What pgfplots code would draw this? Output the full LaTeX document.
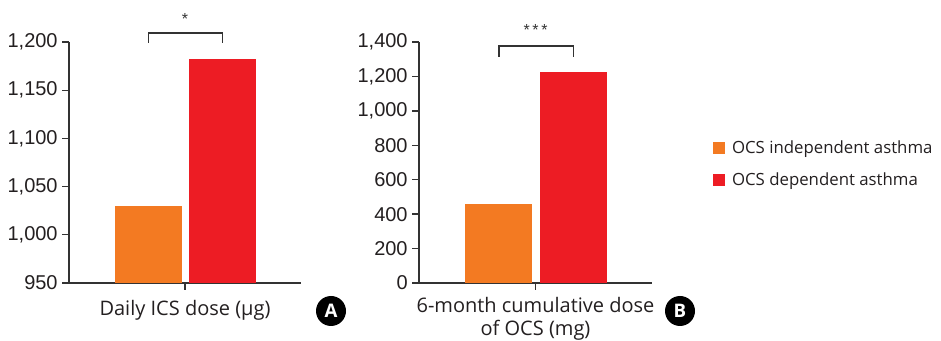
\documentclass[border=0pt]{standalone}
\usepackage{pgfplots}
\pgfplotsset{compat=1.18}
\usepackage{fontspec}
\setmainfont{Liberation Sans}
\newfontfamily\lblfont{Open Sans}
\definecolor{cOrange}{HTML}{F37A22}
\definecolor{cRed}{HTML}{ED1C24}
\definecolor{cAxis}{HTML}{333333}
\definecolor{cText}{HTML}{231F20}
\begin{document}
\begin{tikzpicture}
\useasboundingbox (0,0) rectangle (705.75pt,-255.75pt);
\pgfplotsset{
  panel/.style={
    scale only axis,
    width=174pt, height=180.75pt,
    xmin=0, xmax=232,
    axis x line*=bottom, axis y line*=left,
    axis line style={cAxis, line width=1pt, -},
    xtick={116}, xticklabels={},
    major tick style={cAxis, line width=1pt},
    major tick length=5pt,
    tick align=outside,
    ticklabel style={font=\fontsize{15}{17}\selectfont, text=cText},
    /pgf/number format/assume math mode=true,
    /pgf/number format/.cd, 1000 sep={,},
    /pgfplots/.cd,
    ybar, bar width=50.25pt, bar shift=0pt,
    clip mode=individual,
    label style={font=\lblfont\fontsize{15}{17}\selectfont, text=cText},
  }
}
% Panel A
\begin{axis}[panel, at={(51.75pt,-212.25pt)}, anchor=origin,
  ymin=950, ymax=1200, ytick={950,1000,1050,1100,1150,1200},
  xlabel={Daily ICS dose (µg)},
  xlabel style={at={(axis description cs:0.5,-0.112)}, anchor=center},
]
\addplot[fill=cOrange, draw=none] coordinates {(79.5,1030)};
\addplot[fill=cRed, draw=none] coordinates {(153.5,1182)};
\draw[cAxis, line width=1pt] (axis cs:79.5,1199) -- (axis cs:79.5,1209.3) -- (axis cs:153.5,1209.3) -- (axis cs:153.5,1199);
\node[font=\fontsize{12}{12}\selectfont, text=cAxis] at (axis cs:116,1224) {*};
\end{axis}
% Panel B
\begin{axis}[panel, at={(314.25pt,-212.25pt)}, anchor=origin,
  width=174.75pt,
  ymin=0, ymax=1400, ytick={0,200,400,600,800,1000,1200,1400},
  xlabel={6-month cumulative dose\\of OCS (mg)},
  xlabel style={at={(axis description cs:0.5,-0.06)}, anchor=north, align=center, inner sep=0pt},
  legend style={at={(axis description cs:1.245,0.612)}, anchor=north west,
    draw=none, fill=none, font=\lblfont\fontsize{12.6}{15}\selectfont, text=cText,
    row sep=8.5pt, legend cell align=left,
    /tikz/every odd column/.append style={column sep=3pt}},
  legend image code/.code={\fill[#1] (0pt,-4.5pt) rectangle (9pt,4.5pt);},
]
\addplot[fill=cOrange, draw=none] coordinates {(79.5,459)};
\addlegendentry{OCS independent asthma}
\addplot[fill=cRed, draw=none] coordinates {(153.5,1226)};
\addlegendentry{OCS dependent asthma}
\draw[cAxis, line width=1pt] (axis cs:79.5,1313) -- (axis cs:79.5,1377) -- (axis cs:153.5,1377) -- (axis cs:153.5,1313);
\node[font=\fontsize{12}{12}\selectfont, text=cAxis] at (axis cs:116,1470) {*\,*\,*};
\end{axis}
% panel letters
\node[circle, fill=black, minimum size=22.5pt, inner sep=0pt, text=white, font=\lblfont\bfseries\fontsize{14}{14}\selectfont] at (248.25pt,-233.25pt) {A};
\node[circle, fill=black, minimum size=22.5pt, inner sep=0pt, text=white, font=\lblfont\bfseries\fontsize{14}{14}\selectfont] at (510pt,-233.25pt) {B};
\end{tikzpicture}
\end{document}
